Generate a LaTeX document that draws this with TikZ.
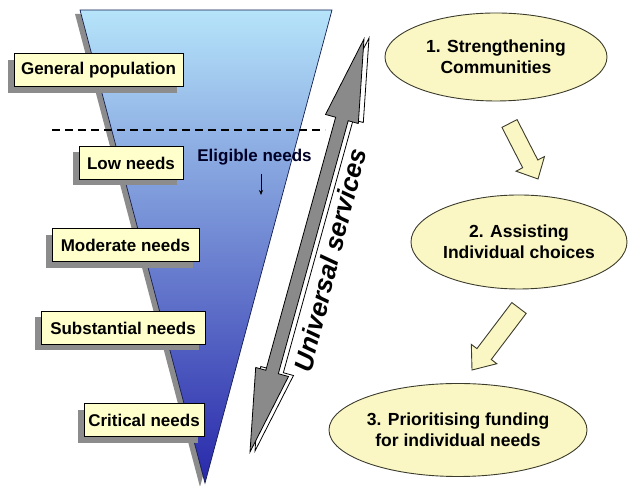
\documentclass[tikz,border=0pt]{standalone}
\usepackage{fontspec}
\setmainfont{Liberation Sans}
\usetikzlibrary{calc,shapes.geometric,shadows,arrows.meta}

\definecolor{boxfill}{RGB}{255,255,204}
\definecolor{ovalfill}{RGB}{250,247,196}
\definecolor{ovaledge}{RGB}{60,60,45}
\definecolor{funtop}{RGB}{182,228,250}
\definecolor{funmid}{RGB}{128,170,220}
\definecolor{funbot}{RGB}{40,40,170}
\definecolor{funedge}{RGB}{20,30,80}
\definecolor{shadowgrey}{RGB}{140,140,140}
\definecolor{arrowgrey}{RGB}{138,138,138}

% block arrow from a tail point to a tip point
% #1 style, #2 tail, #3 tip, #4 half shaft width, #5 half head width, #6 head length
\newcommand{\blockarrowshape}[6]{%
  \coordinate (#2-hb) at ($(#3)!#6!(#2)$);
  \draw[#1] ($(#2)!#4!90:(#3)$) -- ($(#2-hb)!#4!90:(#3)$) -- ($(#2-hb)!#5!90:(#3)$)
    -- (#3) -- ($(#2-hb)!#5!-90:(#3)$) -- ($(#2-hb)!#4!-90:(#3)$)
    -- ($(#2)!#4!-90:(#3)$) -- cycle;}

% two-headed block arrow between two tips
% #1 style, #2 lower tip, #3 upper tip, #4 half shaft width, #5 half head width, #6 head length
\newcommand{\twowayshape}[6]{%
  \coordinate (#2-hb) at ($(#2)!#6!(#3)$);
  \coordinate (#3-hb) at ($(#3)!#6!(#2)$);
  \draw[#1] (#3) -- ($(#3-hb)!#5!90:(#3)$) -- ($(#3-hb)!#4!90:(#3)$)
    -- ($(#2-hb)!#4!90:(#3)$) -- ($(#2-hb)!#5!90:(#3)$) -- (#2)
    -- ($(#2-hb)!#5!-90:(#3)$) -- ($(#2-hb)!#4!-90:(#3)$)
    -- ($(#3-hb)!#4!-90:(#3)$) -- ($(#3-hb)!#5!-90:(#3)$) -- cycle;}

\begin{document}
\begin{tikzpicture}[x=1pt,y=1pt,
  needbox/.style={draw=black, line width=1pt, fill=boxfill, minimum height=33pt,
    inner sep=0pt, font=\fontsize{17}{20}\selectfont\bfseries,
    drop shadow={shadow xshift=-6pt, shadow yshift=-6pt, opacity=1, fill=shadowgrey}},
  oval/.style={ellipse, draw=ovaledge, line width=0.9pt, fill=ovalfill, inner sep=0pt,
    align=center, font=\fontsize{17.5}{21}\selectfont\bfseries},
  blockarrow/.style={draw=ovaledge, line width=0.9pt, fill=ovalfill, line join=miter},
  bigarrow/.style={draw=black, line width=0.8pt, fill=arrowgrey, line join=miter},
  bigarrowback/.style={draw=black, line width=0.8pt, fill=white, line join=miter}]
\useasboundingbox (0,0) rectangle (629,486);

% funnel of needs
\coordinate (ftl) at (80,476);
\coordinate (ftr) at (332,476);
\coordinate (ftip) at (205,3);
\fill[shadowgrey] ($(ftl)+(-5,-4)$) -- ($(ftr)+(-5,-4)$) -- ($(ftip)+(-5,-4)$) -- cycle;
\shadedraw[top color=funtop, middle color=funmid, bottom color=funbot, draw=funedge,
  line width=0.7pt] (ftl) -- (ftr) -- (ftip) -- cycle;

% eligibility threshold
\coordinate (dl) at (52,356);
\coordinate (dr) at (325,356);
\draw[dash pattern=on 8pt off 5pt, line width=1.3pt] (dl) -- (dr);

\node[font=\fontsize{17}{20}\selectfont\bfseries, text=black!85!blue] (elig) at (254.5,329) {Eligible needs};
\coordinate (ea1) at (261,312);
\coordinate (ea2) at (261,291);
\draw[line width=0.6pt, -{Stealth[length=5pt,width=4pt]}] (ea1) -- (ea2);

% levels of need
\node[needbox, minimum width=169pt] (gp) at (98.5,415.5) {General population};
\node[needbox, minimum width=104pt] (low) at (131,323) {Low needs};
\node[needbox, minimum width=147pt] (mod) at (125.5,240.5) {Moderate needs};
\node[needbox, minimum width=164pt] (sub) at (123,158) {Substantial needs};
\node[needbox, minimum width=120pt] (crit) at (144,65.5) {Critical needs};

% universal services arrow
\coordinate (ub) at (250,34);
\coordinate (ut) at (364,447);
\coordinate (ubw) at ($(ub)+(5,1)$);
\coordinate (utw) at ($(ut)+(5,1)$);
\twowayshape{bigarrowback}{ubw}{utw}{6.5pt}{17pt}{83pt}
\twowayshape{bigarrow}{ub}{ut}{6.5pt}{17pt}{83pt}
\node[rotate=76, font=\fontsize{26}{30}\selectfont\bfseries\itshape] (univ) at (330,226) {Universal services};

% strategy steps
\node[oval, minimum width=222pt, minimum height=88pt] (s1) at (496,429) {1. Strengthening\\Communities};
\node[oval, minimum width=216pt, minimum height=94pt] (s2) at (519,244) {2. Assisting\\Individual choices};
\node[oval, minimum width=222pt, minimum height=93pt] (s3) at (458,56) {3. Prioritising funding\\for individual needs};

\coordinate (a1) at (509.5,362.5);
\coordinate (a2) at (538,307);
\blockarrowshape{blockarrow}{a1}{a2}{8.5pt}{16pt}{17pt}
\coordinate (b1) at (519,178);
\coordinate (b2) at (472,116);
\blockarrowshape{blockarrow}{b1}{b2}{9pt}{16pt}{20pt}
\end{tikzpicture}
\end{document}
